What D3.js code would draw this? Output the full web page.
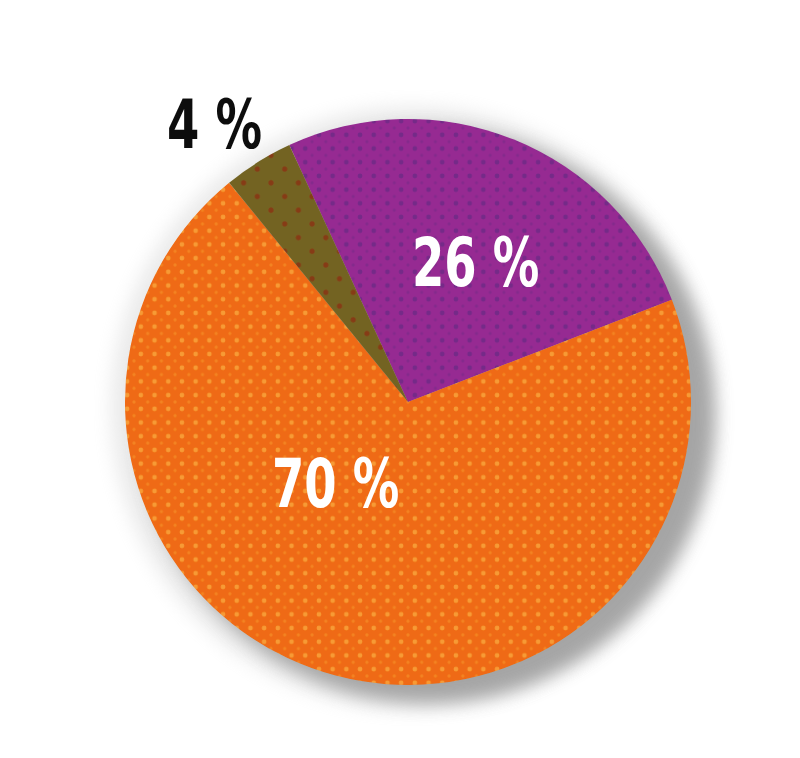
<!DOCTYPE html>
<html>
<head>
<meta charset="utf-8">
<script src="https://cdn.jsdelivr.net/npm/d3@7"></script>
<style>
  html, body { margin: 0; padding: 0; background: #ffffff; }
  svg { display: block; }
</style>
</head>
<body>
<script>
// ---- data ----
const categories = ["B", "A", "C"];
const values = [26, 70, 4];
const labels = ["26 %", "70 %", "4 %"];

// ---- layout / style ----
const W = 800, H = 758;
const cx = 408, cy = 402, R = 283;
const startDeg = -24.8;
const baseColors = ["#962a92", "#ef6a12", "#736424"];
const dotColors = ["#6e2a86", "#f8a23a", "#8a3412"];
const labelColors = ["#ffffff", "#ffffff", "#111111"];
// label anchors (start x, baseline y)
const labelPos = [[412, 286], [272, 507], [167, 148]];
const labelSquash = 0.76;

const svg = d3.select("body").append("svg").attr("width", W).attr("height", H);
const defs = svg.append("defs");

// halftone-ish patterns
baseColors.forEach((c, i) => {
  const s = i === 2 ? 27.4 : 13.7;
  const p = defs.append("pattern")
    .attr("id", "pat" + i)
    .attr("patternUnits", "userSpaceOnUse")
    .attr("width", s)
    .attr("height", s);
  p.append("rect").attr("width", s).attr("height", s).attr("fill", c);
  p.append("circle").attr("cx", s / 2).attr("cy", s / 2).attr("r", i === 2 ? 2.6 : 2.4)
    .attr("fill", dotColors[i]).attr("opacity", 0.85);
  if (i === 2) {
    [[0,0],[s,0],[0,s],[s,s]].forEach(([x, y]) =>
      p.append("circle").attr("cx", x).attr("cy", y).attr("r", 2.6)
        .attr("fill", dotColors[i]).attr("opacity", 0.85));
  } else {
    [[0,0],[s,0],[0,s],[s,s]].forEach(([x, y]) =>
      p.append("circle").attr("cx", x).attr("cy", y).attr("r", 1.6)
        .attr("fill", dotColors[i]).attr("opacity", 0.45));
  }
});

// shadow
const sh = defs.append("filter").attr("id", "shadow")
  .attr("x", "-20%").attr("y", "-20%").attr("width", "140%").attr("height", "140%");
sh.append("feGaussianBlur").attr("stdDeviation", 9);

const soft = defs.append("filter").attr("id", "soft");
soft.append("feGaussianBlur").attr("stdDeviation", 0.7);

// faint outer halo
svg.append("circle")
  .attr("cx", cx + 4).attr("cy", cy + 6).attr("r", R + 18)
  .attr("fill", "#cccccc").attr("opacity", 0.4)
  .attr("filter", "url(#shadow)");
// main offset shadow
svg.append("circle")
  .attr("cx", cx + 20).attr("cy", cy + 14).attr("r", R + 4)
  .attr("fill", "#8e8e8e").attr("opacity", 0.75)
  .attr("filter", "url(#shadow)");

const pie = d3.pie().sort(null)
  .startAngle(startDeg * Math.PI / 180)
  .endAngle(startDeg * Math.PI / 180 + 2 * Math.PI);
const arc = d3.arc().innerRadius(0).outerRadius(R);

const g = svg.append("g").attr("transform", `translate(${cx},${cy})`).attr("filter", "url(#soft)");
g.selectAll("path").data(pie(values)).join("path")
  .attr("d", arc)
  .attr("fill", (d, i) => `url(#pat${i})`);

svg.append("g").selectAll("text").data(labels).join("text")
  .attr("transform", (d, i) => `translate(${labelPos[i][0]},${labelPos[i][1]}) scale(${labelSquash},1)`)
  .attr("fill", (d, i) => labelColors[i])
  .attr("font-family", "'DejaVu Sans Condensed', 'DejaVu Sans', sans-serif")
  .attr("font-weight", "bold")
  .attr("font-size", 68)
  .attr("filter", "url(#soft)")
  .text(d => d);
</script>
</body>
</html>
